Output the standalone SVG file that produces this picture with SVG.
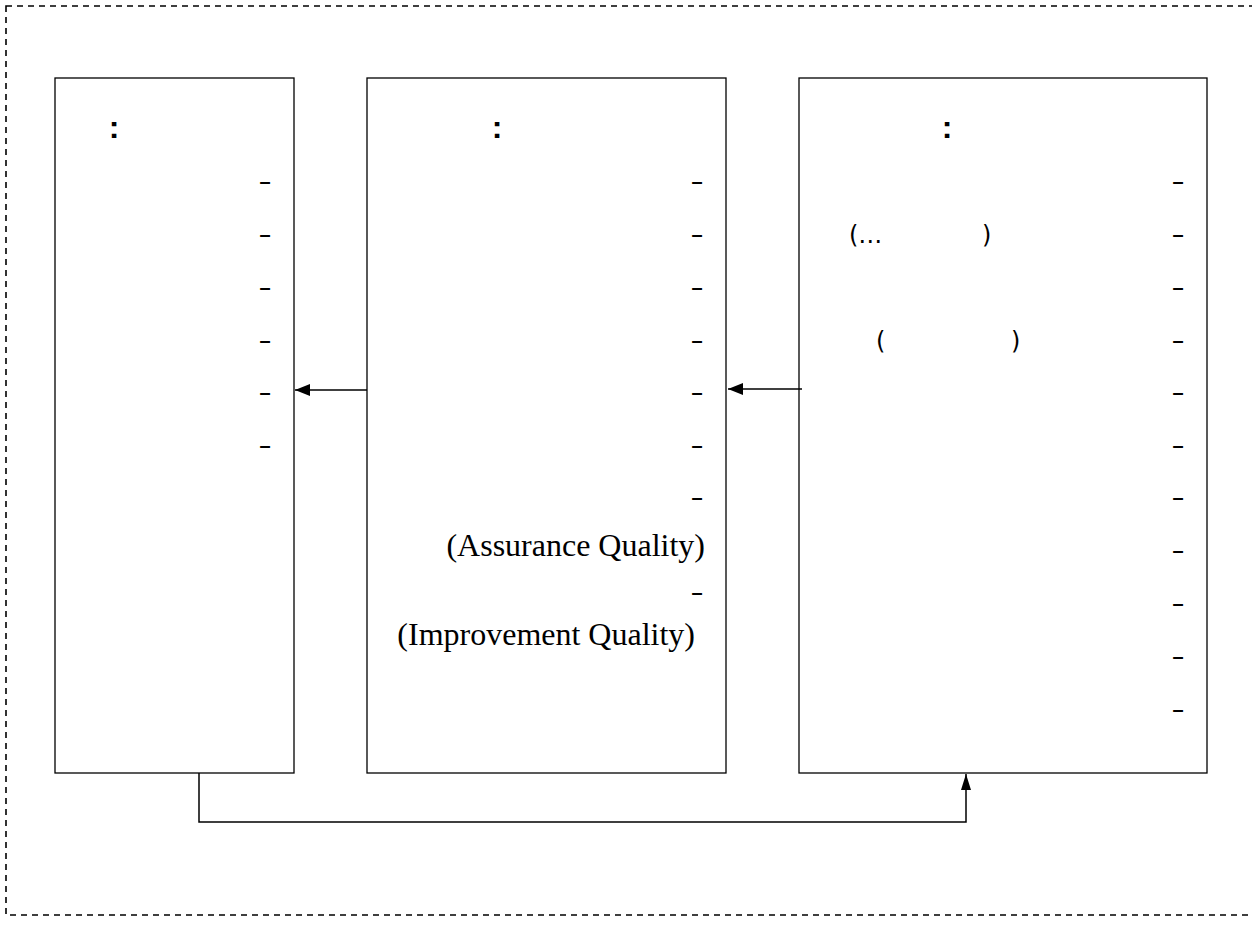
<svg xmlns="http://www.w3.org/2000/svg" width="1252" height="944" viewBox="0 0 1252 944">
<style>
.box{fill:#fff;stroke:#000;stroke-width:1.3}
.d{font-family:"Liberation Sans",Arial,sans-serif;font-size:20px;font-weight:bold;fill:#000;text-anchor:middle}
.c{font-family:"Liberation Sans",Arial,sans-serif;font-size:32px;font-weight:bold;fill:#000;text-anchor:middle}
.s{font-family:"Liberation Serif","Times New Roman",serif;font-size:32px;fill:#000}
.p{font-family:"DejaVu Sans",sans-serif;font-size:24px;fill:#000}
.ln{fill:none;stroke:#000;stroke-width:1.5}
</style>
<defs>
<marker id="ah" viewBox="0 0 16 10" refX="16" refY="5" markerWidth="16" markerHeight="10" markerUnits="userSpaceOnUse" orient="auto">
<path d="M0,0 L16,5 L0,10 Z" fill="#000"/>
</marker>
<marker id="ah2" viewBox="0 0 15 12" refX="15" refY="6" markerWidth="15" markerHeight="12" markerUnits="userSpaceOnUse" orient="auto">
<path d="M0,0 L15,6 L0,12 Z" fill="#000"/>
</marker>
</defs>
<rect x="6" y="6" width="1250" height="909" fill="none" stroke="#000" stroke-width="1.6" stroke-dasharray="6,5"/>
<g id="node1">
<rect class="box" x="55" y="78" width="239" height="695"/>
<text class="c" x="114" y="138">:</text>
<text class="d" x="265" y="188">–</text>
<text class="d" x="265" y="241">–</text>
<text class="d" x="265" y="294">–</text>
<text class="d" x="265" y="347">–</text>
<text class="d" x="265" y="399">–</text>
<text class="d" x="265" y="452">–</text>
</g>
<g id="node2">
<rect class="box" x="367" y="78" width="359" height="695"/>
<text class="c" x="497" y="138">:</text>
<text class="d" x="697" y="188">–</text>
<text class="d" x="697" y="241">–</text>
<text class="d" x="697" y="294">–</text>
<text class="d" x="697" y="347">–</text>
<text class="d" x="697" y="399">–</text>
<text class="d" x="697" y="452">–</text>
<text class="d" x="697" y="504">–</text>
<text class="s" x="705" y="556" text-anchor="end">(Assurance Quality)</text>
<text class="d" x="697" y="599">–</text>
<text class="s" x="695" y="645" text-anchor="end">(Improvement Quality)</text>
</g>
<g id="node3">
<rect class="box" x="799" y="78" width="408" height="695"/>
<text class="c" x="947" y="138">:</text>
<text class="d" x="1178" y="188">–</text>
<text class="d" x="1178" y="241">–</text>
<text class="d" x="1178" y="294">–</text>
<text class="d" x="1178" y="347">–</text>
<text class="d" x="1178" y="399">–</text>
<text class="d" x="1178" y="452">–</text>
<text class="d" x="1178" y="504">–</text>
<text class="d" x="1178" y="557">–</text>
<text class="d" x="1178" y="610">–</text>
<text class="d" x="1178" y="663">–</text>
<text class="d" x="1178" y="716">–</text>
<text class="p" x="849" y="243">(…</text>
<text class="p" x="982" y="243">)</text>
<text class="p" x="876" y="349">(</text>
<text class="p" x="1011" y="349">)</text>
</g>
<g id="connectors">
<line class="ln" x1="367" y1="390" x2="295" y2="390" marker-end="url(#ah2)"/>
<line class="ln" x1="802" y1="389" x2="728" y2="389" marker-end="url(#ah2)"/>
<polyline class="ln" points="199,773 199,822 966,822 966,774" marker-end="url(#ah)"/>
</g>
</svg>
